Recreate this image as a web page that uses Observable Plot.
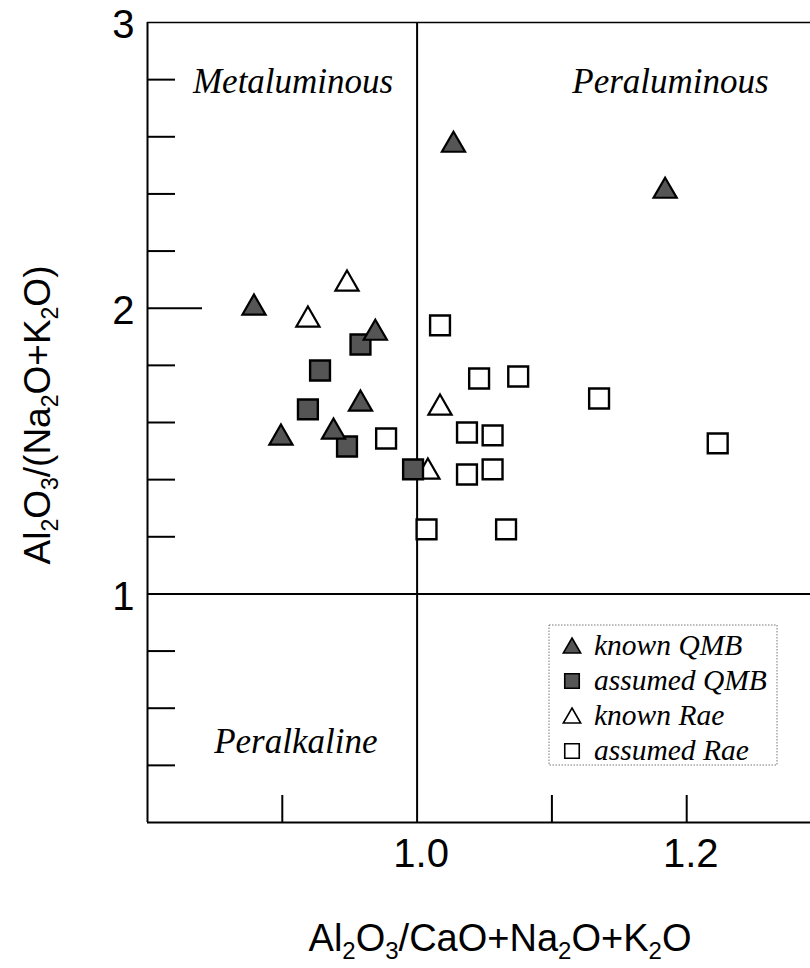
<!DOCTYPE html>
<html>
<head>
<meta charset="utf-8">
<script src="https://cdn.jsdelivr.net/npm/d3@7"></script>
<script src="https://cdn.jsdelivr.net/npm/@observablehq/plot@0.6"></script>
<style>
  html, body { margin: 0; padding: 0; background: #fff; }
  #chart svg { display: block; }
</style>
</head>
<body>
<div id="chart"></div>
<script>
// ---- Data ----
const knownQMB_x   = [0.879, 0.899, 0.938, 0.958, 0.969, 1.027, 1.184];
const knownQMB_y   = [2.001, 1.546, 1.567, 1.665, 1.913, 2.571, 2.410];
const assumedQMB_x = [0.928, 0.919, 0.958, 0.948, 0.997];
const assumedQMB_y = [1.782, 1.646, 1.873, 1.516, 1.436];
const knownRae_x   = [0.948, 0.919, 1.017, 1.008];
const knownRae_y   = [2.085, 1.959, 1.651, 1.427];
const assumedRae_x = [1.017, 1.046, 1.075, 1.037, 1.056, 1.037, 1.056, 1.007, 1.066, 0.977, 1.135, 1.223];
const assumedRae_y = [1.940, 1.754, 1.761, 1.565, 1.555, 1.418, 1.436, 1.226, 1.226, 1.544, 1.684, 1.527];

const seriesNames  = ["known QMB", "assumed QMB", "known Rae", "assumed Rae"];
const yTickLabels  = [1, 2, 3];
const yMinorTicks  = [0.4, 0.6, 0.8, 1.2, 1.4, 1.6, 1.8, 2.2, 2.4, 2.6, 2.8];
const yMajorInner  = [2];
const xTickLabels  = [1.0, 1.2];
const xTicks       = [0.9, 1.1, 1.2, 1.3];
const regionNames  = ["Metaluminous", "Peraluminous", "Peralkaline"];
const xBoundary = 1.0, yBoundary = 1.0;

// ---- Layout ----
const W = 810, H = 968;
const xDomain = [0.8, 1.3], yDomain = [0.2, 3];
const xRange = [147, 821], yRange = [822, 22];
const xPerPx = (xDomain[1] - xDomain[0]) / (xRange[1] - xRange[0]);
const yPerPx = (yDomain[1] - yDomain[0]) / (yRange[0] - yRange[1]);

const zip = (xs, ys) => xs.map((x, i) => ({x, y: ys[i]}));
const kQMB = zip(knownQMB_x, knownQMB_y);
const aQMB = zip(assumedQMB_x, assumedQMB_y);
const kRae = zip(knownRae_x, knownRae_y);
const aRae = zip(assumedRae_x, assumedRae_y);

const regions = [
  {label: regionNames[0], x: (xDomain[0] + xBoundary) / 2 + 0.008, y: 2.752},
  {label: regionNames[1], x: (xBoundary + xDomain[1]) / 2 + 0.038, y: 2.752},
  {label: regionNames[2], x: (xDomain[0] + xBoundary) / 2 + 0.01, y: 0.445}
];

const fillDark = "#555";
const serif = "'Liberation Serif', 'Times New Roman', serif";
const sans = "'Liberation Sans', Arial, Helvetica, sans-serif";

const plot = Plot.plot({
  width: W, height: H,
  marginTop: 22, marginBottom: 146, marginLeft: 147, marginRight: 0,
  x: {domain: xDomain, range: xRange, axis: null},
  y: {domain: yDomain, range: yRange, axis: null},
  style: {background: "white", fontFamily: sans, color: "black"},
  marks: [
    // frame lines
    Plot.ruleX([xDomain[0]], {y1: yDomain[0], y2: yDomain[1], stroke: "black", strokeWidth: 2}),
    Plot.ruleY([yDomain[0]], {x1: xDomain[0], x2: xDomain[1], stroke: "black", strokeWidth: 2}),
    Plot.ruleY([yDomain[1]], {x1: xDomain[0], x2: xDomain[1], stroke: "black", strokeWidth: 1.5}),
    // boundary lines
    Plot.ruleX([xBoundary], {y1: yDomain[0], y2: yDomain[1], stroke: "black", strokeWidth: 2}),
    Plot.ruleY([yBoundary], {x1: xDomain[0], x2: xDomain[1], stroke: "black", strokeWidth: 2}),
    // inward ticks
    Plot.ruleY(yMinorTicks, {x1: xDomain[0], x2: xDomain[0] + 28 * xPerPx, stroke: "black", strokeWidth: 2}),
    Plot.ruleY(yMajorInner, {x1: xDomain[0], x2: xDomain[0] + 55 * xPerPx, stroke: "black", strokeWidth: 2}),
    Plot.ruleX(xTicks, {y1: yDomain[0], y2: yDomain[0] + 27 * yPerPx, stroke: "black", strokeWidth: 2}),
    // tick labels
    Plot.text(yTickLabels, {x: xDomain[0], y: d => d, text: d => String(d), textAnchor: "end", dx: -13, dy: 3, fontSize: 40, fontFamily: sans, fill: "black"}),
    Plot.text(xTickLabels, {x: d => d, y: yDomain[0], text: d => d3.format(".1f")(d), dy: 32, dx: 4, fontSize: 40, fontFamily: sans, fill: "black"}),
    // region labels
    Plot.text(regions, {x: "x", y: "y", text: "label", fontSize: 35, fontStyle: "italic", fontFamily: serif, lineAnchor: "bottom", fill: "black"}),
    // data
    Plot.dot(kRae, {x: "x", y: "y", symbol: "triangle", r: 8.6, fill: "white", stroke: "black", strokeWidth: 2.2}),
    Plot.dot(aRae, {x: "x", y: "y", symbol: "square", r: 11.2, fill: "white", stroke: "black", strokeWidth: 2.4}),
    Plot.dot(aQMB, {x: "x", y: "y", symbol: "square", r: 11.2, fill: fillDark, stroke: "black", strokeWidth: 2.4}),
    Plot.dot(kQMB, {x: "x", y: "y", symbol: "triangle", r: 8.6, fill: fillDark, stroke: "black", strokeWidth: 2.2})
  ]
});

document.getElementById("chart").appendChild(plot);

// ---- Axis titles with subscripts ----
const svg = d3.select(plot);
function chem(g, parts, size) {
  const subSize = Math.round(size * 0.62), shift = Math.round(size * 0.22);
  let down = false;
  parts.forEach(p => {
    const sub = /^\d$/.test(p);
    const t = g.append("tspan").text(p);
    if (sub) { t.attr("font-size", subSize).attr("dy", shift); down = true; }
    else if (down) { t.attr("dy", -shift); down = false; }
  });
}
const xt = svg.append("text")
  .attr("x", 500).attr("y", 951)
  .attr("text-anchor", "middle").attr("font-family", sans).attr("font-size", 38).attr("fill", "black");
chem(xt, ["Al", "2", "O", "3", "/CaO+Na", "2", "O+K", "2", "O"], 38);

const yt = svg.append("text")
  .attr("transform", "translate(50,415) rotate(-90)")
  .attr("text-anchor", "middle").attr("font-family", sans).attr("font-size", 37).attr("fill", "black");
chem(yt, ["Al", "2", "O", "3", "/(Na", "2", "O+K", "2", "O)"], 37);

// ---- Legend ----
const lg = svg.append("g");
lg.append("rect").attr("x", 549).attr("y", 625).attr("width", 228).attr("height", 140)
  .attr("fill", "white").attr("stroke", "#777").attr("stroke-width", 1).attr("stroke-dasharray", "1.5,1.5");
const legendStyles = [
  {sym: d3.symbolTriangle, size: 130, fill: fillDark},
  {sym: d3.symbolSquare, size: 210, fill: fillDark},
  {sym: d3.symbolTriangle, size: 130, fill: "white"},
  {sym: d3.symbolSquare, size: 210, fill: "white"}
];
seriesNames.forEach((name, i) => {
  const cy = 646 + i * 35;
  const s = legendStyles[i];
  const dyc = s.sym === d3.symbolTriangle ? 2 : 0;
  lg.append("path").attr("d", d3.symbol(s.sym, s.size)())
    .attr("transform", `translate(572,${cy + dyc})`)
    .attr("fill", s.fill).attr("stroke", "black").attr("stroke-width", 1.6);
  lg.append("text").attr("x", 594).attr("y", cy + 9)
    .attr("text-anchor", "start")
    .attr("font-family", serif).attr("font-style", "italic").attr("font-size", 29.5).attr("fill", "black")
    .text(name);
});
</script>
</body>
</html>
